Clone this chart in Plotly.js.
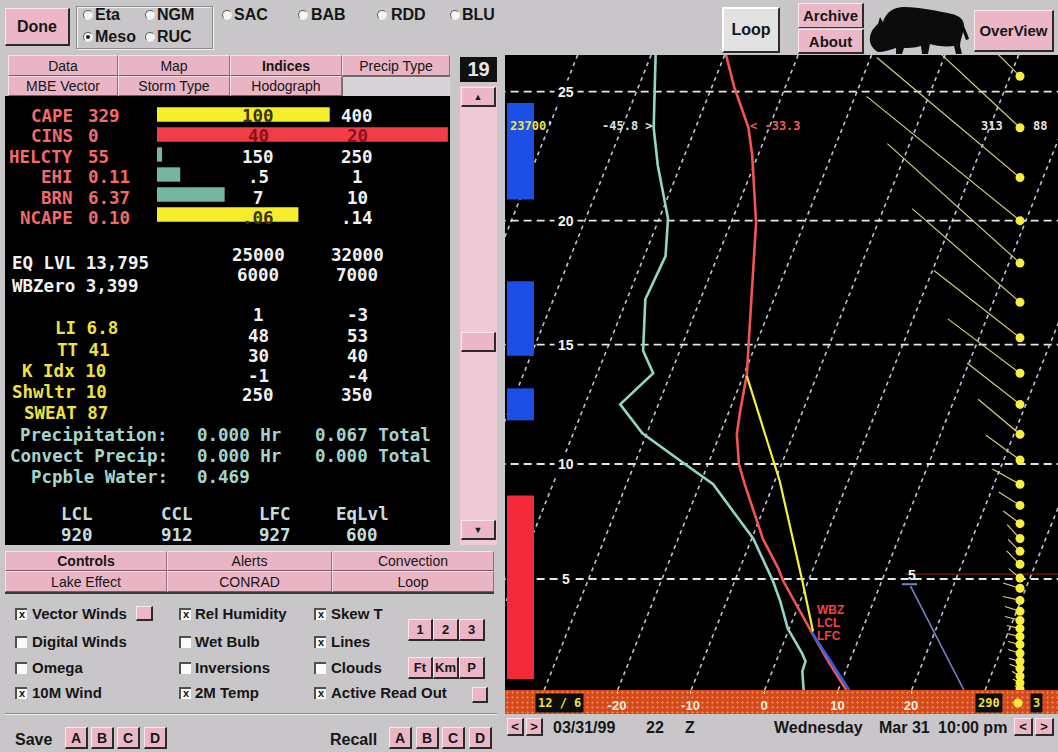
<!DOCTYPE html>
<html><head><meta charset="utf-8">
<script src="https://cdn.plot.ly/plotly-3.0.1.min.js"></script>
<style>
body{margin:0;width:1058px;height:752px;overflow:hidden;background:#c8c6c9;font-family:"Liberation Sans",Arial,sans-serif;position:relative;color:#161616}
.a{position:absolute}
.btn{position:absolute;background:#ebb7c7;border-top:1px solid #fbe6ee;border-left:1px solid #fbe6ee;border-right:2px solid #2a2a2a;border-bottom:2px solid #2a2a2a;box-sizing:border-box;display:flex;align-items:center;justify-content:center;font-weight:bold;font-size:15px;color:#161616}
.tab{position:absolute;background:#e9b5c5;border-top:1px solid #f8e0e8;border-left:1px solid #f8e0e8;border-right:1px solid #9a6a7a;border-bottom:1px solid #7a5a66;box-sizing:border-box;display:flex;align-items:center;justify-content:center;font-size:14px;color:#161616}
.lbl{position:absolute;font-weight:bold;font-size:16px;line-height:18px;white-space:nowrap}
.rad{position:absolute;width:10px;height:10px;border-radius:50%;background:#f4f4f4;border-top:1px solid #606060;border-left:1px solid #606060;border-right:1px solid #e8e8e8;border-bottom:1px solid #e8e8e8;box-sizing:border-box}
.rad.on::after{content:"";position:absolute;left:2px;top:2px;width:4px;height:4px;border-radius:50%;background:#202020}
.cb{position:absolute;width:12px;height:12px;background:#fafafa;border-top:2px solid #505050;border-left:2px solid #505050;box-sizing:border-box;font-size:11px;font-weight:bold;line-height:9px;text-align:center;color:#111}
.ct{position:absolute;font-weight:bold;font-size:15px;line-height:16px;white-space:nowrap}
.bt{position:absolute;font-weight:bold;font-size:16px;line-height:18px;white-space:nowrap}
</style></head><body>
<!-- top bar -->
<div class="btn" style="left:5px;top:8px;width:65px;height:38px;font-size:16px">Done</div>
<div class="a" style="left:76px;top:6px;width:137px;height:43px;border:1px solid #8c8c8c;box-shadow:inset 1px 1px #f0f0f0,1px 1px #f0f0f0;box-sizing:border-box"></div>
<span class="rad" style="left:83px;top:10px"></span><span class="lbl" style="left:95px;top:6px">Eta</span>
<span class="rad" style="left:145px;top:10px"></span><span class="lbl" style="left:157px;top:6px">NGM</span>
<span class="rad on" style="left:83px;top:32px"></span><span class="lbl" style="left:95px;top:28px">Meso</span>
<span class="rad" style="left:145px;top:32px"></span><span class="lbl" style="left:157px;top:28px">RUC</span>
<span class="rad" style="left:222px;top:10px"></span><span class="lbl" style="left:234px;top:6px">SAC</span>
<span class="rad" style="left:298px;top:10px"></span><span class="lbl" style="left:311px;top:6px">BAB</span>
<span class="rad" style="left:377px;top:10px"></span><span class="lbl" style="left:391px;top:6px">RDD</span>
<span class="rad" style="left:450px;top:10px"></span><span class="lbl" style="left:462px;top:6px">BLU</span>

<div class="btn" style="left:722px;top:7px;width:58px;height:46px;background:#e2e2e2;border-top:2px solid #ffffff;border-left:2px solid #ffffff;font-size:16px">Loop</div>
<div class="btn" style="left:798px;top:3px;width:66px;height:25px;border-bottom:1px solid #3a3a3a">Archive</div>
<div class="btn" style="left:798px;top:29px;width:66px;height:25px">About</div>
<svg class="a" style="left:868px;top:4px" width="104" height="52" viewBox="0 0 104 52">
<path fill="#0c0c0c" d="M2,38 C1,30 5,24 10,20 L12,13 L15,18 C18,8 26,3 36,3 C52,3 70,7 84,10 C92,12 96,16 96,22 C98,27 100,31 101,35 L98,36 L95,28 C94,33 92,37 92,42 L94,50 L88,50 L86,42 C78,43 68,42 62,40 L60,50 L54,50 L53,42 C46,44 40,44 36,44 L34,50 L28,50 L28,44 C22,46 16,48 10,48 C6,46 3,42 2,38 Z"/>
</svg>
<div class="btn" style="left:974px;top:10px;width:80px;height:42px">OverView</div>

<!-- tabs -->
<div class="tab" style="left:8px;top:55px;width:110px;height:21px">Data</div>
<div class="tab" style="left:118px;top:55px;width:112px;height:21px">Map</div>
<div class="tab" style="left:230px;top:55px;width:112px;height:21px;font-weight:bold">Indices</div>
<div class="tab" style="left:342px;top:55px;width:108px;height:21px">Precip Type</div>
<div class="tab" style="left:8px;top:76px;width:110px;height:20px">MBE Vector</div>
<div class="tab" style="left:118px;top:76px;width:112px;height:20px">Storm Type</div>
<div class="tab" style="left:230px;top:76px;width:112px;height:20px">Hodograph</div>
<div class="a" style="left:342px;top:76px;width:108px;height:20px;background:#d6d4d6;border-top:1px solid #707070;border-left:1px solid #707070;box-sizing:border-box"></div>
<div class="a" style="left:460px;top:57px;width:37px;height:25px;background:#111;color:#e6e6e6;font-weight:bold;font-size:20px;line-height:25px;text-align:center">19</div>
<!-- scrollbar -->
<div class="a" style="left:460px;top:86px;width:37px;height:459px;background:#f0c9d6"></div>
<div class="btn" style="left:461px;top:87px;width:35px;height:20px;font-size:9px">&#9650;</div>
<div class="btn" style="left:461px;top:332px;width:35px;height:20px"></div>
<div class="btn" style="left:461px;top:520px;width:35px;height:20px;font-size:9px">&#9660;</div>

<div id="indices" class="a" style="left:5px;top:96px;width:445px;height:449px;overflow:hidden;background:#000"></div>

<!-- controls -->
<div class="tab" style="left:5px;top:551px;width:162px;height:20px;font-weight:bold">Controls</div>
<div class="tab" style="left:167px;top:551px;width:165px;height:20px">Alerts</div>
<div class="tab" style="left:332px;top:551px;width:162px;height:20px">Convection</div>
<div class="tab" style="left:5px;top:571px;width:162px;height:21px">Lake Effect</div>
<div class="tab" style="left:167px;top:571px;width:165px;height:21px">CONRAD</div>
<div class="tab" style="left:332px;top:571px;width:162px;height:21px">Loop</div>
<div class="a" style="left:5px;top:592px;width:489px;height:2px;background:#3a3a3a"></div>

<div class="cb" style="left:15px;top:608px">x</div><div class="ct" style="left:32px;top:606px">Vector Winds</div>
<div class="btn" style="left:136px;top:606px;width:17px;height:15px"></div>
<div class="cb" style="left:15px;top:636px"></div><div class="ct" style="left:32px;top:634px">Digital Winds</div>
<div class="cb" style="left:15px;top:662px"></div><div class="ct" style="left:32px;top:660px">Omega</div>
<div class="cb" style="left:15px;top:687px">x</div><div class="ct" style="left:32px;top:685px">10M Wind</div>
<div class="cb" style="left:179px;top:608px">x</div><div class="ct" style="left:195px;top:606px">Rel Humidity</div>
<div class="cb" style="left:179px;top:636px"></div><div class="ct" style="left:195px;top:634px">Wet Bulb</div>
<div class="cb" style="left:179px;top:662px"></div><div class="ct" style="left:195px;top:660px">Inversions</div>
<div class="cb" style="left:179px;top:687px">x</div><div class="ct" style="left:195px;top:685px">2M Temp</div>
<div class="cb" style="left:314px;top:608px">x</div><div class="ct" style="left:331px;top:606px">Skew T</div>
<div class="cb" style="left:314px;top:636px">x</div><div class="ct" style="left:331px;top:634px">Lines</div>
<div class="cb" style="left:314px;top:662px"></div><div class="ct" style="left:331px;top:660px">Clouds</div>
<div class="cb" style="left:314px;top:687px">x</div><div class="ct" style="left:331px;top:685px">Active Read Out</div>
<div class="btn" style="left:408px;top:619px;width:25px;height:22px;font-size:13px">1</div>
<div class="btn" style="left:433px;top:619px;width:26px;height:22px;font-size:13px">2</div>
<div class="btn" style="left:459px;top:619px;width:26px;height:22px;font-size:13px">3</div>
<div class="btn" style="left:408px;top:657px;width:25px;height:22px;font-size:13px">Ft</div>
<div class="btn" style="left:433px;top:657px;width:26px;height:22px;font-size:13px">Km</div>
<div class="btn" style="left:459px;top:657px;width:26px;height:22px;font-size:13px">P</div>
<div class="btn" style="left:472px;top:687px;width:16px;height:16px"></div>
<div class="a" style="left:5px;top:713px;width:492px;height:1px;background:#8a8a8a;border-bottom:1px solid #f0f0f0"></div>
<div class="bt" style="left:15px;top:731px">Save</div>
<div class="btn" style="left:65px;top:727px;width:23px;height:22px;font-size:14px">A</div>
<div class="btn" style="left:91px;top:727px;width:23px;height:22px;font-size:14px">B</div>
<div class="btn" style="left:117px;top:727px;width:23px;height:22px;font-size:14px">C</div>
<div class="btn" style="left:144px;top:727px;width:23px;height:22px;font-size:14px">D</div>
<div class="bt" style="left:330px;top:731px">Recall</div>
<div class="btn" style="left:389px;top:727px;width:23px;height:22px;font-size:14px">A</div>
<div class="btn" style="left:416px;top:727px;width:23px;height:22px;font-size:14px">B</div>
<div class="btn" style="left:442px;top:727px;width:23px;height:22px;font-size:14px">C</div>
<div class="btn" style="left:469px;top:727px;width:23px;height:22px;font-size:14px">D</div>

<div id="skewt" class="a" style="left:505px;top:55px;width:553px;height:659px;background-color:#d24a1d;background-image:radial-gradient(#ef7a3a 1px,transparent 1.3px);background-size:5px 5px"></div>

<!-- date bar -->
<div class="btn" style="left:507px;top:718px;width:17px;height:18px;font-size:13px">&lt;</div>
<div class="btn" style="left:526px;top:718px;width:17px;height:18px;font-size:13px">&gt;</div>
<div class="bt" style="left:553px;top:719px">03/31/99</div>
<div class="bt" style="left:646px;top:719px">22</div>
<div class="bt" style="left:685px;top:719px">Z</div>
<div class="bt" style="left:774px;top:719px">Wednesday</div>
<div class="bt" style="left:879px;top:719px">Mar 31</div>
<div class="bt" style="left:938px;top:719px">10:00 pm</div>
<div class="btn" style="left:1014px;top:718px;width:19px;height:18px;font-size:13px">&lt;</div>
<div class="btn" style="left:1035px;top:718px;width:19px;height:18px;font-size:13px">&gt;</div>

<script>
// ================= DATA =================
// Indices panel
const indexNames = ['CAPE','CINS','HELCTY','EHI','BRN','NCAPE'];
const indexValues = ['329','0','55','0.11','6.37','0.10'];
const indexBarLengths = [1.71, 2.88, 0.05, 0.23, 0.67, 1.40];   // bar length in threshold units
const indexLow = ['100','40','150','.5','7','.06'];
const indexHigh = ['400','20','250','1','10','.14'];
const levelNames = ['EQ LVL','WBZero'];
const levelValues = ['13,795','3,399'];
const levelLow = ['25000','6000'];
const levelHigh = ['32000','7000'];
const stabNames = ['LI','TT','K Idx','Shwltr','SWEAT'];
const stabValues = ['6.8','41','10','10','87'];
const stabLow = ['1','48','30','-1','250'];
const stabHigh = ['-3','53','40','-4','350'];
const precipNames = ['Precipitation:','Convect Precip:','Pcpble Water:'];
const precipHour = ['0.000 Hr','0.000 Hr','0.469'];
const precipTotal = ['0.067 Total','0.000 Total',''];
const parcelLevelNames = ['LCL','CCL','LFC','EqLvl'];
const parcelLevelValues = ['920','912','927','600'];

// Skew-T sounding (height in kft, temperature in degC)
const tempHeights = [0, 1.31, 2.61, 3.69, 4.91, 5.48, 6.78, 8.09, 9.13, 10.0, 11.26, 12.23, 13.78, 14.75, 17.26, 19.92, 22.56, 23.62, 25.19, 26.46];
const tempValues  = [11.1, 7.1, 3.3, 0.2, -3.4, -4.8, -8.5, -11.5, -13.9, -15.8, -17.7, -18.5, -19.6, -20.7, -23.5, -26.6, -30.8, -32.8, -37.0, -40.0];
const dewHeights = [0, 0.86, 1.31, 1.67, 2.79, 4.01, 4.91, 6.78, 7.96, 9.13, 10.04, 11.30, 12.52, 13.82, 14.75, 15.89, 16.85, 18.59, 20.08, 22.17, 23.62, 26.46];
const dewValues  = [5.3, 4.1, 4.0, 3.1, -0.2, -2.7, -4.8, -9.8, -14.0, -18.2, -23.4, -30.6, -35.2, -32.4, -35.0, -36.4, -37.5, -37.1, -38.8, -43.1, -45.7, -49.5];
const parcelHeights = [2.66, 4.91, 9.26, 13.70];
const parcelValues  = [3.4, -0.8, -9.3, -19.5];
const dryHeights = [0, 2.61];
const dryValues  = [11.5, 3.3];
const auxHeights = [0, 4.68];
const auxValues  = [27.1, 14.2];
const auxTickHeights = [4.77, 4.77];
const auxTickValues = [12.9, 15.0];
// RH / cloud layers (kft)
const layerBottoms = [20.83, 14.54, 11.85, 0.5];
const layerTops    = [24.57, 17.58, 13.19, 8.65];
// winds
const windHeights = [25.58,23.62,21.69,20.00,18.31,16.73,15.28,13.82,12.52,11.26,10.17,9.13,8.22,7.43,6.78,6.22,5.65,5.04,4.59,4.05,3.56,3.15,2.79,2.43,2.07,1.67,1.31,0.99,0.63,0.32,0.05];
const windDirs    = [315,313,310,309,312,311,308,307,308,310,306,299,302,307,317,315,315,310,287,283,288,285,283,283,284,288,285,292,302,300,301];
const windSpeeds  = [90,88,89,94,85,68,52,43,32,26,20,15,12,10,9,8,9,7,8.5,8.3,7.5,7.4,6.4,6.4,5.9,6.0,5.4,5.2,4.5,3.9,2.8];
const tempTicks = [-20,-10,0,10,20];
const heightLines = [5,10,15,20,25];
const heightLabels = ['5','10','15','20','25'];
const isotherms = [-70,-60,-50,-40,-30,-20,-10,0,10,20,30,40];
const readout = {height:23.7, label:"23700'", dew:'-45.8 >', temp:'< -33.3', dir:'313', spd:'88'};
const sfcWind = {dir:'290', spd:'3'};
const timeBox = '12 / 6';

// ================= INDICES PANEL =================
(function(){
  const W=445,H=449,L=5,T=96;
  const px=x=>(x-L)/W, py=y=>1-(y-T)/H;
  const mono={family:'DejaVu Sans Mono, monospace',size:17.5,weight:700};
  const ann=(text,x,y,color,anchor)=>({text:text,x:px(x),y:py(y),xref:'paper',yref:'paper',xanchor:anchor||'left',yanchor:'middle',showarrow:false,font:Object.assign({},mono,{color:color})});
  const barColors=['#f6ee2a','#f23c46','#74b6a0','#74b6a0','#74b6a0','#f6ee2a'];
  const onBar={'#f6ee2a':'#3a3200','#f23c46':'#8c1018'};
  const red='#f26a6a', white='#f2f2f2', yel='#f0e23c', teal='#a4d4cc', lc='#c4dede';
  const A=[];
  indexNames.forEach((n,i)=>{
    const y=116+20.4*i;
    A.push(ann(n,75,y,red,'right'));
    A.push(ann(indexValues[i],86,y,red,'left'));
    const cl=indexBarLengths[i]>1.15?(onBar[barColors[i]]||white):white;
    const ch=indexBarLengths[i]>2.15?(onBar[barColors[i]]||white):white;
    A.push(ann(indexLow[i],258,y,cl,'center'));
    A.push(ann(indexHigh[i],357,y,ch,'center'));
  });
  levelNames.forEach((n,i)=>{
    A.push(ann(n+' '+levelValues[i],10,263+23*i,white,'left'));
    A.push(ann(levelLow[i],258,255+20*i,white,'center'));
    A.push(ann(levelHigh[i],357,255+20*i,white,'center'));
  });
  const stabX=[53,55,20,10,22], stabY=[328,350,371,392,413], thY=[315,336,356,376,395];
  stabNames.forEach((n,i)=>{
    A.push(ann(n+' '+stabValues[i],stabX[i],stabY[i],yel,'left'));
    A.push(ann(stabLow[i],258,thY[i],white,'center'));
    A.push(ann(stabHigh[i],357,thY[i],white,'center'));
  });
  precipNames.forEach((n,i)=>{
    const y=435+21*i;
    A.push(ann(n,170,y,teal,'right'));
    A.push(ann(precipHour[i],195,y,teal,'left'));
    if(precipTotal[i]) A.push(ann(precipTotal[i],313,y,teal,'left'));
  });
  const plX=[77,177,275,362];
  parcelLevelNames.forEach((n,i)=>{
    A.push(ann(n,plX[i],513.5,lc,'center'));
    A.push(ann(parcelLevelValues[i],plX[i],534.5,lc,'center'));
  });
  const xr=[(L-157)/101,(L+W-157)/101];
  const yr=[(T+H-114.5)/20,(T-114.5)/20];
  Plotly.newPlot('indices',[{type:'bar',orientation:'h',x:indexBarLengths,y:indexNames.map((_,i)=>i),base:0,width:0.72,marker:{color:barColors,line:{width:0}},hoverinfo:'skip'}],
  {width:W,height:H,margin:{l:0,r:0,t:0,b:0},paper_bgcolor:'#000',plot_bgcolor:'#000',showlegend:false,
   xaxis:{range:xr,visible:false,fixedrange:true},yaxis:{range:yr,visible:false,fixedrange:true},annotations:A},
  {staticPlot:true,displayModeBar:false});
})();

// ================= SKEW-T =================
(function(){
  const W=553, PH=635, B=24, L=505, TOP=55;
  const PX_PER_C=7.35, PX_PER_Y=1390, X0PIX=764;
  const P0=1016;
  const kftToP=h=>1013.25*Math.pow(1-6.8756e-6*h*1000,5.2559);
  const yOf=h=>Math.log10(P0/kftToP(h));
  const SKEW=0.4*PX_PER_Y/PX_PER_C;
  const xOf=(t,h)=>t+SKEW*yOf(h);
  const xmin=(L-X0PIX)/PX_PER_C, xmax=xmin+W/PX_PER_C;
  const ybot=yOf(0), ytop=ybot+PH/PX_PER_Y;
  const pxX=x=>(x-L)/W, pxY=y=>(TOP+PH-y)/PH;
  const prof=(hs,ts,color,width)=>({type:'scatter',mode:'lines',x:hs.map((h,i)=>xOf(ts[i],h)),y:hs.map(yOf),line:{color:color,width:width},hoverinfo:'skip'});
  const ix=[],iy=[];
  isotherms.forEach(t=>{ix.push(t+SKEW*ybot,t+SKEW*ytop,null);iy.push(ybot,ytop,null);});
  const hx=[],hy=[];
  heightLines.forEach(h=>{hx.push(xmin-1,xmax+1,null);hy.push(yOf(h),yOf(h),null);});
  const dotX=xmin+(1020-L)/PX_PER_C;
  const bx=[],by=[];
  windHeights.forEach((h,i)=>{const len=2.1*windSpeeds[i],a=windDirs[i]*Math.PI/180;
    bx.push(dotX,dotX+len*Math.sin(a)/PX_PER_C,null);by.push(yOf(h),yOf(h)+len*Math.cos(a)/PX_PER_Y,null);});
  const traces=[
    {type:'scatter',mode:'lines',x:ix,y:iy,line:{color:'#b9c3d6',width:1.6,dash:'4px,4px'},hoverinfo:'skip'},
    {type:'scatter',mode:'lines',x:hx,y:hy,line:{color:'#e6e6e6',width:1.8,dash:'8px,5px'},hoverinfo:'skip'},
    prof(auxHeights,auxValues,'#7282c4',1.6),
    prof(auxTickHeights,auxTickValues,'#7282c4',2),
    prof(dewHeights,dewValues,'#92d6c6',2.6),
    prof(tempHeights,tempValues,'#f25454',2.6),
    prof(parcelHeights,parcelValues,'#f4f03a',2.2),
    prof(dryHeights,dryValues,'#2f5fe6',2.6),
    {type:'scatter',mode:'lines',x:bx,y:by,line:{color:'#d4cd80',width:1.2},hoverinfo:'skip'},
    {type:'scatter',mode:'markers',x:windHeights.map(()=>dotX),y:windHeights.map(yOf),marker:{color:'#f8ee3c',size:9,line:{width:0}},hoverinfo:'skip'}
  ];
  const layerColors=['#1b4fe6','#1b4fe6','#1b4fe6','#f22a3a'];
  const shapes=layerBottoms.map((b,i)=>({type:'rect',xref:'paper',yref:'y',x0:pxX(507),x1:pxX(534),y0:yOf(b),y1:yOf(layerTops[i]),fillcolor:layerColors[i],line:{width:0},layer:'above'}));
  shapes.push({type:'line',xref:'paper',yref:'y',x0:pxX(905),x1:1,y0:yOf(5.22),y1:yOf(5.22),line:{color:'#7a1a1a',width:1.2},layer:'below'});
  shapes.push({type:'circle',xref:'paper',yref:'paper',x0:pxX(1013.5),x1:pxX(1022.5),y0:pxY(707.5),y1:pxY(698.5),fillcolor:'#f8ee3c',line:{width:0}});
  const A=[];
  const lab={family:'Liberation Sans, Arial, sans-serif',size:14,weight:700};
  heightLines.forEach((h,i)=>A.push({text:heightLabels[i],xref:'paper',yref:'y',x:pxX(566),y:yOf(h),xanchor:'center',yanchor:'middle',showarrow:false,bgcolor:'#000',borderpad:3,font:Object.assign({},lab,{color:'#f4f4f4'})}));
  const mono={family:'DejaVu Sans Mono, monospace',size:12,weight:700};
  const ra=(text,x,anchor,color)=>({text:text,xref:'paper',yref:'y',x:pxX(x),y:yOf(readout.height),xanchor:anchor,yanchor:'middle',showarrow:false,font:Object.assign({},mono,{color:color})});
  A.push(ra(readout.label,508,'left','#f0e44a'));
  A.push(ra(readout.dew,600,'left','#d6e6e6'));
  A.push(ra(readout.temp,748,'left','#f25a5a'));
  A.push(ra(readout.dir,1005,'right','#e6e6e6'));
  A.push(ra(readout.spd,1031,'left','#e6e6e6'));
  const pa=(text,x,y,color,size,anchor)=>({text:text,xref:'paper',yref:'paper',x:pxX(x),y:pxY(y),xanchor:anchor||'left',yanchor:'middle',showarrow:false,font:Object.assign({},lab,{color:color,size:size||14})});
  A.push(pa('WBZ',815,610,'#f04444',12));
  A.push(pa('LCL',815,623,'#f04444',12));
  A.push(pa('LFC',815,636,'#f04444',12));
  A.push(pa('5',912,575,'#f4f4f4',14,'center'));
  const box=(text,x)=>({text:text,xref:'paper',yref:'paper',x:pxX(x),y:pxY(703),xanchor:'center',yanchor:'middle',showarrow:false,bgcolor:'#0c0c0c',borderpad:2,font:{family:'DejaVu Sans Mono, monospace',size:12,weight:700,color:'#eee23a'}});
  A.push(box(timeBox,559));
  A.push(box(sfcWind.dir,989));
  A.push(box(sfcWind.spd,1036));
  Plotly.newPlot('skewt',traces,{
    width:W,height:PH+B,margin:{l:0,r:0,t:0,b:B},paper_bgcolor:'rgba(0,0,0,0)',plot_bgcolor:'#000',showlegend:false,
    xaxis:{range:[xmin,xmax],tickvals:tempTicks,ticktext:tempTicks.map(String),ticks:'outside',ticklen:3,tickwidth:1,tickcolor:'#f2dcc0',showgrid:false,zeroline:false,showline:false,fixedrange:true,
      tickfont:{family:'Liberation Sans, Arial, sans-serif',size:13,weight:700,color:'#f6eedc'}},
    yaxis:{range:[ybot,ytop],visible:false,fixedrange:true},
    shapes:shapes,annotations:A
  },{staticPlot:true,displayModeBar:false});
})();
</script>
</body></html>
